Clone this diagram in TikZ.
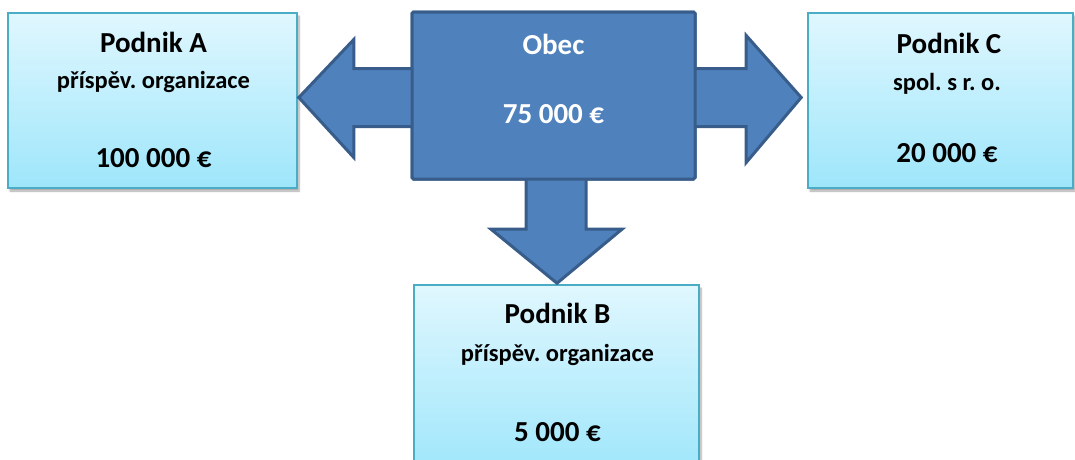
\documentclass[tikz,border=0pt]{standalone}
\usepackage{fontspec}
\setmainfont{Carlito}
\usetikzlibrary{calc,shadows.blur}
\definecolor{obecfill}{RGB}{79,129,189}
\definecolor{obecline}{RGB}{56,93,138}
\definecolor{boxline}{RGB}{75,172,198}
\definecolor{boxtop}{RGB}{224,247,254}
\definecolor{boxbot}{RGB}{158,230,251}
\tikzset{
  lightbox/.style={draw=boxline, line width=1.6pt, top color=boxtop, bottom color=boxbot,
    inner sep=0pt, blur shadow={shadow xshift=2pt, shadow yshift=-3pt, shadow opacity=35, shadow blur steps=6}},
  obecbox/.style={draw=obecline, fill=obecfill, line width=3pt, rounded corners=1.5pt, inner sep=0pt},
  barrow/.style={draw=obecline, fill=obecfill, line width=3pt, line join=miter},
  head/.style={font=\bfseries\fontsize{29}{33}\selectfont\frenchspacing, anchor=base, inner sep=0pt},
  sub/.style={font=\bfseries\fontsize{24.5}{28}\selectfont\frenchspacing, anchor=base, inner sep=0pt},
  whitetxt/.style={text=white}
}
\begin{document}
\frenchspacing
\begin{tikzpicture}[x=1pt,y=-1pt]
\useasboundingbox (0,0) rectangle (1075,459);
\clip (0,0) rectangle (1075,459);
% boxes
\node[lightbox, minimum width=289pt, minimum height=175pt] (a) at (152.5,100.5) {};
\node[lightbox, minimum width=265pt, minimum height=175pt] (c) at (940.5,100.5) {};
\node[lightbox, minimum width=285pt, minimum height=190pt] (b) at (556.5,380) {};
% arrow tips
\coordinate (tipA) at ($(a.east)+(1,-3)$);
\coordinate (tipC) at ($(c.west)+(-6,-3)$);
\coordinate (tipB) at ($(b.north)+(0.5,-1)$);
\node[obecbox, minimum width=283pt, minimum height=167pt] (obec) at (553.5,95.5) {};
% block arrows
\draw[barrow] ($(obec.west |- tipA)+(4,-29)$) -- ($(tipA)+(55,-29)$) -- ($(tipA)+(55,-58)$) -- (tipA)
  -- ($(tipA)+(55,60)$) -- ($(tipA)+(55,29)$) -- ($(obec.west |- tipA)+(4,29)$);
\draw[barrow] ($(obec.east |- tipC)+(-4,-29)$) -- ($(tipC)+(-55,-29)$) -- ($(tipC)+(-55,-62)$) -- (tipC)
  -- ($(tipC)+(-55,65)$) -- ($(tipC)+(-55,29)$) -- ($(obec.east |- tipC)+(-4,29)$);
\draw[barrow] ($(obec.south -| tipB)+(-31,-4)$) -- ($(tipB)+(-31,-54)$) -- ($(tipB)+(-66,-54)$) -- (tipB)
  -- ($(tipB)+(65,-54)$) -- ($(tipB)+(29,-54)$) -- ($(obec.south -| tipB)+(29,-4)$);
% Obec box on top of the arrow stems
\node[obecbox, minimum width=283pt, minimum height=167pt] (obectop) at (obec) {};
% texts
\node[head] (a1) at (153.5,52) {Podnik A};
\node[sub]  (a2) at (153.5,88) {příspěv. organizace};
\node[head] (a3) at (153.5,167) {100 000 €};
\node[head] (c1) at (949,53) {Podnik C};
\node[sub]  (c2) at (947,90) {spol. s r. o.};
\node[head] (c3) at (947,162) {20 000 €};
\node[head] (b1) at (557.5,323) {Podnik B};
\node[sub]  (b2) at (557.5,361) {příspěv. organizace};
\node[head] (b3) at (557.5,441) {5 000 €};
\node[head, whitetxt] (o1) at (553.5,54) {Obec};
\node[head, whitetxt] (o2) at (553.5,123) {75 000 €};
\end{tikzpicture}
\end{document}
